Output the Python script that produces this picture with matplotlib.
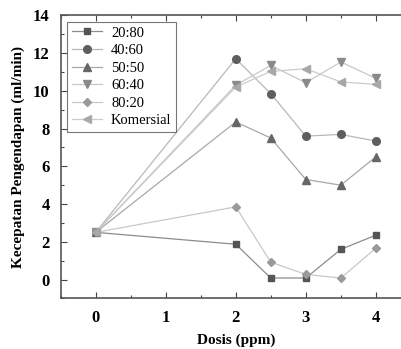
import matplotlib.pyplot as plt
from matplotlib.ticker import MultipleLocator

plt.rcParams['font.family'] = ['Liberation Serif', 'DejaVu Serif']

dosis = [0, 2, 2.5, 3, 3.5, 4]
labels = ['20:80', '40:60', '50:50', '60:40', '80:20', 'Komersial']
y_2080 = [2.5, 1.87, 0.08, 0.08, 1.6, 2.35]
y_4060 = [2.5, 11.7, 9.85, 7.6, 7.69, 7.34]
y_5050 = [2.5, 8.35, 7.5, 5.3, 5.0, 6.5]
y_6040 = [2.5, 10.3, 11.35, 10.43, 11.53, 10.66]
y_8020 = [2.5, 3.85, 0.92, 0.27, 0.08, 1.66]
y_kom = [2.5, 10.2, 11.03, 11.17, 10.47, 10.34]

series = [y_2080, y_4060, y_5050, y_6040, y_8020, y_kom]
markers = ['s', 'o', '^', 'v', 'D', '<']
msizes = [5, 5.5, 5.5, 5.5, 4.5, 5.5]
mcolors = ['#555555', '#5e5e5e', '#666666', '#8a8a8a', '#9a9a9a', '#a8a8a8']
lcolors = ['#8c8c8c', '#b8b8b8', '#a8a8a8', '#c8c8c8', '#c8c8c8', '#cccccc']

fig = plt.figure(figsize=(4.02, 3.49), dpi=100)
ax = fig.add_axes([0.151, 0.145, 0.871, 0.811])

for y, lab, m, ms, mc, lc in zip(series, labels, markers, msizes, mcolors, lcolors):
    ax.plot(dosis, y, color=lc, lw=0.9, marker=m, ms=ms, mfc=mc, mec=mc, label=lab)

ax.set_xlim(-0.5, 4.5)
ax.set_ylim(-1, 14)
ax.xaxis.set_major_locator(MultipleLocator(1))
ax.xaxis.set_minor_locator(MultipleLocator(0.5))
ax.yaxis.set_major_locator(MultipleLocator(2))
ax.yaxis.set_minor_locator(MultipleLocator(1))
ax.tick_params(which='both', direction='in', top=True, right=True, color='#444444')
ax.tick_params(which='major', length=4, width=0.8, labelsize=12, pad=8)
ax.tick_params(which='minor', length=2.5, width=0.8)
for lbl in ax.get_xticklabels() + ax.get_yticklabels():
    lbl.set_fontweight('bold')
for s in ax.spines.values():
    s.set_color('#555555')
    s.set_linewidth(1.2)

ax.set_xlabel('Dosis (ppm)', fontsize=11, fontweight='bold', labelpad=6)
ax.set_ylabel('Kecepatan Pengendapan (ml/min)', fontsize=11, fontweight='bold', labelpad=6)

leg = ax.legend(loc='upper left', fontsize=10.5, frameon=True, fancybox=False,
                edgecolor='#555555', borderaxespad=0.45, handlelength=2.1,
                labelspacing=0.3, borderpad=0.3, handletextpad=0.6)
leg.get_frame().set_linewidth(0.8)

fig.savefig('out.png', dpi=100)
